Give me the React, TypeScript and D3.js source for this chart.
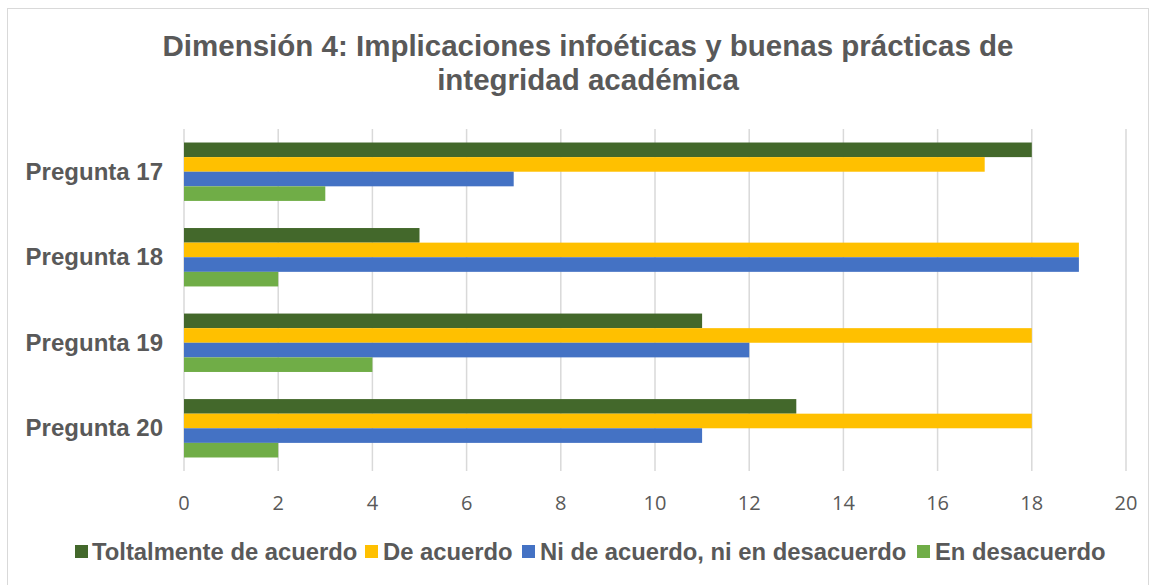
import React from "react";
import * as d3 from "d3";

const categories = ["Pregunta 17", "Pregunta 18", "Pregunta 19", "Pregunta 20"];
const seriesNames = [
  "Toltalmente de acuerdo",
  "De acuerdo",
  "Ni de acuerdo, ni en desacuerdo",
  "En desacuerdo",
];
const totalmente = [18, 5, 11, 13];
const deAcuerdo = [17, 19, 18, 18];
const niNi = [7, 19, 12, 11];
const enDesacuerdo = [3, 2, 4, 2];
const seriesColors = ["#43682B", "#FFC000", "#4472C4", "#70AD47"];
const xTicks = [0, 2, 4, 6, 8, 10, 12, 14, 16, 18, 20];
const titleLines = [
  "Dimensión 4: Implicaciones infoéticas y buenas prácticas de",
  "integridad académica",
];

export default function App() {
  const W = 1156;
  const H = 585;
  const left = 184;
  const right = 1126;
  const top = 129;
  const bottom = 471;
  const seriesValues = [totalmente, deAcuerdo, niNi, enDesacuerdo];

  const x = d3.scaleLinear().domain([0, 20]).range([left, right]);
  const y0 = d3
    .scaleBand<string>()
    .domain(categories)
    .range([top, bottom])
    .paddingInner(0.317)
    .paddingOuter(0.158);
  const y1 = d3
    .scaleBand<string>()
    .domain(seriesNames)
    .range([0, y0.bandwidth()]);

  const grey = "#595959";
  const bold = "'Liberation Sans', Arial, sans-serif";

  const legendItems = [
    { sx: 75, tx: 92 },
    { sx: 365, tx: 383 },
    { sx: 522, tx: 540 },
    { sx: 917, tx: 935 },
  ];

  return (
    <svg
      width={W}
      height={H}
      style={{ position: "absolute", left: 0, top: 0, background: "#fff" }}
    >
      <rect x={7.5} y={8.5} width={1141} height={590} fill="#fff" stroke="#D9D9D9" strokeWidth={1} />
      {titleLines.map((t, i) => (
        <text
          key={i}
          x={588}
          y={56 + i * 34}
          textAnchor="middle"
          fontFamily={bold}
          fontWeight="bold"
          fontSize={29.5}
          fill={grey}
        >
          {t}
        </text>
      ))}
      {xTicks.map((t) => (
        <g key={t}>
          <line x1={x(t)} x2={x(t)} y1={top} y2={bottom} stroke="#D9D9D9" strokeWidth={1.5} />
          <text
            x={x(t)}
            y={510}
            textAnchor="middle"
            fontFamily="'Open Sans', sans-serif"
            fontSize={20}
            fill={grey}
          >
            {t}
          </text>
        </g>
      ))}
      {categories.map((c, ci) => (
        <g key={c}>
          {seriesNames.map((s, si) => (
            <rect
              key={s}
              x={x(0)}
              y={(y0(c) as number) + (y1(s) as number)}
              width={x(seriesValues[si][ci]) - x(0)}
              height={y1.bandwidth()}
              fill={seriesColors[si]}
            />
          ))}
          <text
            x={163}
            y={(y0(c) as number) + y0.bandwidth() / 2 + 8}
            textAnchor="end"
            fontFamily={bold}
            fontWeight="bold"
            fontSize={24}
            fill={grey}
          >
            {c}
          </text>
        </g>
      ))}
      {seriesNames.map((s, i) => (
        <g key={s}>
          <rect x={legendItems[i].sx} y={545} width={13} height={13} fill={seriesColors[i]} />
          <text
            x={legendItems[i].tx}
            y={560}
            fontFamily={bold}
            fontWeight="bold"
            fontSize={23.8}
            fill={grey}
          >
            {s}
          </text>
        </g>
      ))}
    </svg>
  );
}
